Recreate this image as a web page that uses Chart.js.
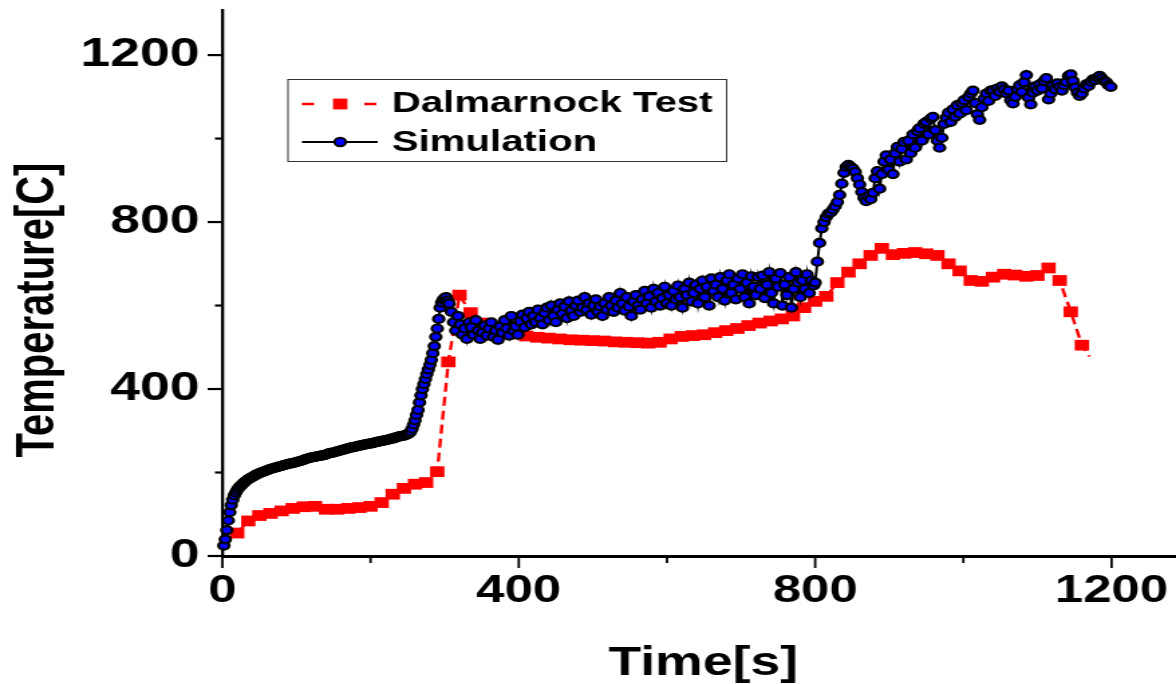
<!DOCTYPE html>
<html>
<head>
<meta charset="utf-8">
<script src="https://cdn.jsdelivr.net/npm/chart.js@4.4.0/dist/chart.umd.min.js"></script>
<style>
    html, body { margin: 0; padding: 0; background: #fff; overflow: hidden; }
    /* a figura original esta esticada na horizontal: desenha-se estreita e estica-se */
    #wrap { width: 878px; height: 684px; transform: scaleX(1.3394); transform-origin: 0 0; }
</style>
</head>
<body>
<div id="wrap"><canvas id="grafico" width="878" height="684"></canvas></div>
<script>
// --- DADOS ---
// Dalmarnock Test (quadrados vermelhos, linha tracejada)
const testTime = [20, 35, 50, 65, 80, 95, 110, 125, 140, 155, 170, 185, 200, 215, 230, 245, 260, 275, 290, 305,
    320, 335, 350, 365, 380, 395, 410, 425, 440, 455, 470, 485, 500, 515, 530, 545, 560, 575, 590, 605,
    620, 635, 650, 665, 680, 695, 710, 725, 740, 755, 770, 785, 800, 815, 830, 845, 860, 875, 890, 905,
    920, 935, 950, 965, 980, 995, 1010, 1025, 1040, 1055, 1070, 1085, 1100, 1115, 1130, 1145, 1160, 1170];
const testTemp = [55, 84, 97, 102, 108, 114, 118, 119, 112, 112, 114, 116, 119, 128, 148, 162, 172, 176, 202, 465,
    625, 583, 558, 548, 540, 532, 527, 524, 522, 520, 518, 517, 516, 515, 513, 512, 511, 510, 512, 520,
    526, 528, 530, 535, 540, 545, 552, 558, 563, 568, 575, 595, 610, 622, 655, 680, 700, 720, 737, 722,
    725, 727, 724, 720, 700, 683, 660, 658, 668, 675, 673, 670, 672, 690, 660, 585, 505, 478];

// Simulation - aquecimento inicial e primeira subida (0-304 s)
const simTimeA = [2, 4, 6, 8, 10, 12, 14, 16, 18, 20, 22, 24, 26, 28, 30, 32, 34, 36, 38, 40,
    42, 44, 46, 48, 50, 52, 54, 56, 58, 60, 62, 64, 66, 68, 70, 72, 74, 76, 78, 80,
    82, 84, 86, 88, 90, 92, 94, 96, 98, 100, 102, 104, 106, 108, 110, 112, 114, 116, 118, 120,
    122, 124, 126, 128, 130, 132, 134, 136, 138, 140, 142, 144, 146, 148, 150, 152, 154, 156, 158, 160,
    162, 164, 166, 168, 170, 172, 174, 176, 178, 180, 182, 184, 186, 188, 190, 192, 194, 196, 198, 200,
    202, 204, 206, 208, 210, 212, 214, 216, 218, 220, 222, 224, 226, 228, 230, 232, 234, 236, 238, 240,
    242, 244, 246, 248, 250, 252, 254, 256, 258, 260, 262, 264, 266, 268, 270, 272, 274, 276, 278, 280,
    282, 284, 286, 288, 290, 292, 294, 296, 298, 300, 302, 304];
const simTempA = [25, 40, 62, 85, 105, 122, 135, 145, 152, 158, 163, 167, 170, 174, 177, 180, 183, 185, 187, 189,
    191, 193, 195, 197, 198, 200, 201, 202, 204, 205, 206, 208, 209, 210, 211, 212, 213, 214, 215, 216,
    217, 218, 219, 220, 221, 222, 222, 223, 224, 225, 226, 227, 228, 229, 230, 232, 233, 234, 235, 236,
    237, 237, 238, 239, 239, 240, 241, 241, 242, 243, 245, 246, 247, 247, 248, 249, 250, 251, 252, 253,
    254, 255, 256, 257, 258, 259, 260, 261, 261, 262, 263, 264, 265, 265, 266, 267, 268, 268, 269, 270,
    270, 271, 272, 273, 274, 274, 275, 276, 277, 277, 278, 279, 280, 281, 282, 282, 284, 285, 286, 287,
    288, 288, 289, 290, 292, 294, 298, 305, 315, 325, 338, 350, 368, 385, 400, 412, 424, 436, 447, 458,
    470, 486, 503, 525, 545, 568, 595, 607, 614, 618, 620, 612];

// Simulation - patamar ruidoso (306-798 s)
const simTimeB = [306, 309, 312, 315, 318, 321, 324, 327, 330, 333, 336, 339, 342, 345, 348, 351, 354, 357, 360, 363,
    366, 369, 372, 375, 378, 381, 384, 387, 390, 393, 396, 399, 402, 405, 408, 411, 414, 417, 420, 423,
    426, 429, 432, 435, 438, 441, 444, 447, 450, 453, 456, 459, 462, 465, 468, 471, 474, 477, 480, 483,
    486, 489, 492, 495, 498, 501, 504, 507, 510, 513, 516, 519, 522, 525, 528, 531, 534, 537, 540, 543,
    546, 549, 552, 555, 558, 561, 564, 567, 570, 573, 576, 579, 582, 585, 588, 591, 594, 597, 600, 603,
    606, 609, 612, 615, 618, 621, 624, 627, 630, 633, 636, 639, 642, 645, 648, 651, 654, 657, 660, 663,
    666, 669, 672, 675, 678, 681, 684, 687, 690, 693, 696, 699, 702, 705, 708, 711, 714, 717, 720, 723,
    726, 729, 732, 735, 738, 741, 744, 747, 750, 753, 756, 759, 762, 765, 768, 771, 774, 777, 780, 783,
    786, 789, 792, 795, 798];
const simTempB = [605, 585, 560, 540, 575, 555, 530, 545, 520, 560, 548, 530, 565, 540, 520, 535, 552, 528, 545, 560,
    525, 540, 518, 550, 535, 565, 545, 528, 575, 540, 550, 530, 562, 578, 548, 570, 585, 555, 575, 560,
    590, 570, 555, 582, 595, 565, 600, 575, 560, 590, 605, 580, 598, 570, 610, 588, 575, 600, 612, 585,
    595, 620, 590, 605, 578, 600, 615, 585, 598, 575, 605, 590, 620, 600, 585, 612, 595, 630, 605, 588,
    620, 598, 575, 610, 625, 600, 590, 615, 635, 605, 622, 595, 640, 610, 630, 600, 618, 645, 605, 625,
    600, 635, 615, 648, 620, 595, 640, 625, 655, 610, 630, 650, 605, 640, 660, 620, 645, 600, 665, 635,
    650, 620, 668, 640, 612, 660, 675, 630, 650, 615, 665, 640, 675, 620, 655, 605, 670, 645, 625, 668,
    640, 672, 618, 650, 680, 630, 605, 665, 645, 678, 600, 650, 625, 668, 595, 640, 680, 655, 620, 660,
    640, 675, 630, 660, 648];

// Simulation - segunda subida e patamar final (800-1199 s)
const simTimeC = [800, 803, 806, 809, 812, 815, 818, 821, 824, 827, 830, 833, 836, 839, 842, 845, 848, 851, 854, 857,
    860, 863, 866, 869, 872, 875, 878, 881, 884, 887, 890, 893, 896, 899, 902, 905, 908, 911, 914, 917,
    920, 923, 926, 929, 932, 935, 938, 941, 944, 947, 950, 953, 956, 959, 962, 965, 968, 971, 974, 977,
    980, 983, 986, 989, 992, 995, 998, 1001, 1004, 1007, 1010, 1013, 1016, 1019, 1022, 1025, 1028, 1031, 1034, 1037,
    1040, 1043, 1046, 1049, 1052, 1055, 1058, 1061, 1064, 1067, 1070, 1073, 1076, 1079, 1082, 1085, 1088, 1091, 1094, 1097,
    1100, 1103, 1106, 1109, 1112, 1115, 1118, 1121, 1124, 1127, 1130, 1133, 1136, 1139, 1142, 1145, 1148, 1151, 1154, 1157,
    1160, 1163, 1166, 1169, 1172, 1175, 1178, 1181, 1184, 1187, 1190, 1193, 1196, 1199];
const simTempC = [655, 705, 750, 785, 800, 812, 820, 823, 830, 838, 848, 865, 892, 918, 932, 937, 932, 928, 920, 905,
    890, 872, 858, 850, 862, 855, 870, 905, 922, 880, 915, 945, 960, 925, 950, 915, 965, 980, 945, 975,
    992, 950, 995, 965, 1010, 978, 1018, 1025, 995, 1036, 1040, 1010, 1048, 1052, 1020, 995, 978, 1002, 1035, 1050,
    1062, 1040, 1070, 1052, 1080, 1060, 1085, 1092, 1068, 1100, 1108, 1115, 1085, 1058, 1045, 1075, 1095, 1108, 1090, 1115,
    1116, 1102, 1120, 1112, 1125, 1118, 1108, 1115, 1092, 1084, 1100, 1118, 1128, 1112, 1135, 1152, 1098, 1082, 1110, 1125,
    1115, 1130, 1120, 1138, 1145, 1094, 1108, 1128, 1118, 1132, 1124, 1115, 1128, 1136, 1150, 1154, 1138, 1122, 1110, 1102,
    1108, 1120, 1130, 1126, 1136, 1142, 1140, 1146, 1150, 1144, 1138, 1135, 1128, 1124];

const seriesNames = ['Dalmarnock Test', 'Simulation'];
const xTickLabels = [0, 400, 800, 1200];
const xMinorTicks = [200, 600, 1000];
const yTickLabels = [0, 400, 800, 1200];
const yMinorTicks = [200, 600, 1000];
const xAxisTitle = 'Time[s]';
const yAxisTitle = 'Temperature[C]';

const FONTE = "'Liberation Sans', Arial, sans-serif";

// --- PLUGIN: marcas dos eixos, titulos e legenda ---
const extras = {
    id: 'extras',
    afterDraw(chart) {
        const ctx = chart.ctx;
        const xs = chart.scales.x;
        const ys = chart.scales.y;
        const area = chart.chartArea;
        ctx.save();
        ctx.strokeStyle = '#000';
        ctx.setLineDash([]);

        ctx.lineWidth = 1.8;
        xTickLabels.concat(xMinorTicks).forEach(v => {
            const px = xs.getPixelForValue(v);
            const len = xTickLabels.includes(v) ? 12 : 7;
            ctx.beginPath(); ctx.moveTo(px, area.bottom); ctx.lineTo(px, area.bottom + len); ctx.stroke();
        });
        ctx.lineWidth = 2.2;
        yTickLabels.concat(yMinorTicks).forEach(v => {
            const py = ys.getPixelForValue(v);
            const len = yTickLabels.includes(v) ? 11 : 5.5;
            ctx.beginPath(); ctx.moveTo(area.left, py); ctx.lineTo(area.left - len, py); ctx.stroke();
        });

        // titulos dos eixos
        ctx.fillStyle = '#000';
        ctx.font = `bold 40px ${FONTE}`;
        ctx.textAlign = 'center';
        ctx.textBaseline = 'alphabetic';
        ctx.fillText(xAxisTitle, 525, 675);
        ctx.save();
        ctx.translate(40, 310);
        ctx.rotate(-Math.PI / 2);
        ctx.fillText(yAxisTitle, 0, 0);
        ctx.restore();

        // legenda
        const dsTest = chart.data.datasets[0];
        const dsSim = chart.data.datasets[1];
        ctx.lineWidth = 1;
        ctx.strokeStyle = '#333';
        ctx.strokeRect(215, 79.5, 327.5, 82);

        ctx.strokeStyle = dsTest.borderColor;
        ctx.lineWidth = dsTest.borderWidth;
        ctx.setLineDash([9, 37.6]);
        ctx.beginPath(); ctx.moveTo(225.4, 104); ctx.lineTo(282, 104); ctx.stroke();
        ctx.setLineDash([]);
        ctx.fillStyle = dsTest.pointBackgroundColor;
        ctx.fillRect(254 - 5.4, 104 - 5.4, 10.8, 10.8);

        ctx.strokeStyle = dsSim.borderColor;
        ctx.lineWidth = dsSim.borderWidth;
        ctx.beginPath(); ctx.moveTo(225.4, 142); ctx.lineTo(282, 142); ctx.stroke();
        ctx.beginPath(); ctx.arc(254, 142, 4.2, 0, Math.PI * 2);
        ctx.fillStyle = dsSim.pointBackgroundColor; ctx.fill();
        ctx.lineWidth = 2; ctx.strokeStyle = dsSim.pointBorderColor; ctx.stroke();

        ctx.fillStyle = '#000';
        ctx.font = `bold 30px ${FONTE}`;
        ctx.textAlign = 'left';
        ctx.textBaseline = 'middle';
        ctx.fillText(dsTest.label, 292.5, 104);
        ctx.fillText(dsSim.label, 292.5, 143);
        ctx.restore();
    }
};

// tira o espaco extra que o Chart.js reserva para os rotulos das pontas
function semPadding(s) {
    s.paddingTop = 0; s.paddingBottom = 0; s.paddingLeft = 0; s.paddingRight = 0;
}

// --- GRAFICO ---
const simTime = simTimeA.concat(simTimeB, simTimeC);
const simTemp = simTempA.concat(simTempB, simTempC);
const ultimoTeste = testTime.length - 1;
const ctxGrafico = document.getElementById('grafico').getContext('2d');
new Chart(ctxGrafico, {
    type: 'line',
    data: {
        datasets: [
            {
                label: seriesNames[0],
                data: testTime.map((t, i) => ({ x: t, y: testTemp[i] })),
                borderColor: '#ff0000',
                borderWidth: 2.4,
                borderDash: [9, 5],
                pointStyle: 'rect',
                pointRadius: c => (c.dataIndex === ultimoTeste ? 0 : 7.6),
                pointBackgroundColor: '#ff0000',
                pointBorderWidth: 0,
                tension: 0,
                order: 1,
                clip: false
            },
            {
                label: seriesNames[1],
                data: simTime.map((t, i) => ({ x: t, y: simTemp[i] })),
                borderColor: '#000000',
                borderWidth: 2,
                pointStyle: 'circle',
                pointRadius: 4,
                pointBackgroundColor: '#0000ff',
                pointBorderColor: '#000000',
                pointBorderWidth: 2.2,
                tension: 0,
                order: 0,
                clip: false
            }
        ]
    },
    options: {
        responsive: false,
        animation: false,
        layout: { autoPadding: false, padding: { top: 10, left: 0, right: 0, bottom: 0 } },
        plugins: { legend: { display: false }, tooltip: { enabled: false } },
        scales: {
            x: {
                type: 'linear',
                min: 0,
                max: 1287,
                grid: { display: false, drawTicks: false },
                border: { display: true, color: '#000', width: 3 },
                afterBuildTicks: s => { s.ticks = xTickLabels.map(v => ({ value: v })); },
                afterFit: s => { s.height = 128; semPadding(s); },
                ticks: {
                    color: '#000',
                    padding: 13,
                    maxRotation: 0,
                    autoSkip: false,
                    callback: v => String(v),
                    font: { family: FONTE, size: 38, weight: 'bold' }
                }
            },
            y: {
                type: 'linear',
                min: 0,
                max: 1308,
                grid: { display: false, drawTicks: false },
                border: { display: true, color: '#000', width: 2.3 },
                afterBuildTicks: s => { s.ticks = yTickLabels.map(v => ({ value: v })); },
                afterFit: s => { s.width = 166; semPadding(s); },
                ticks: {
                    color: '#000',
                    padding: 17,
                    autoSkip: false,
                    callback: v => String(v),
                    font: { family: FONTE, size: 40, weight: 'bold' }
                }
            }
        }
    },
    plugins: [extras]
});
</script>
</body>
</html>
